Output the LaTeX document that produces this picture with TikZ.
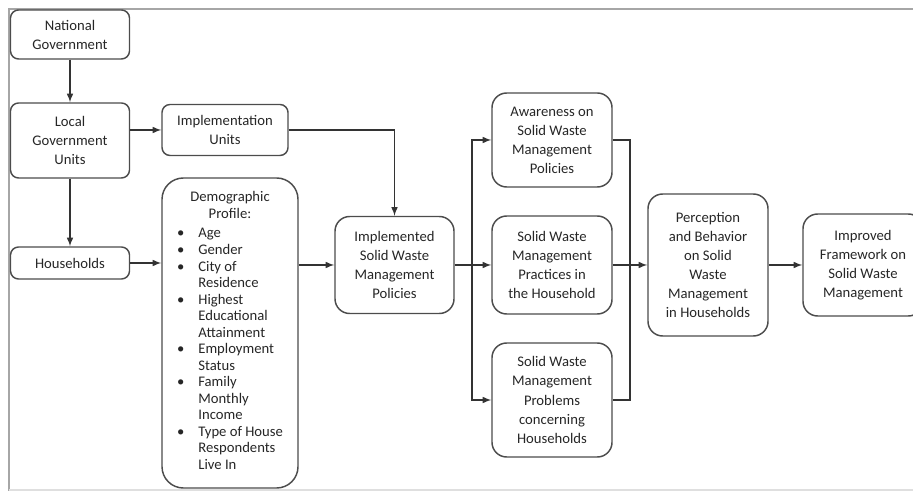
\documentclass[tikz,border=0pt]{standalone}
\usepackage{fontspec}
\setmainfont{Carlito}

\tikzset{
  box/.style={draw=black!70, line width=1.1pt, rounded corners=6pt, align=center,
    inner sep=0pt, text=black!85, font=\fontsize{11}{14.3}\selectfont},
  bigbox/.style={box, rounded corners=11pt},
  link/.style={->, >=latex, line width=1.2pt, black!80},
}

\begin{document}
\begin{tikzpicture}[x=0.75pt, y=-0.75pt]

\useasboundingbox (0,0) rectangle (913,491);
\draw[gray!70, line width=2.2pt] (9,491) -- (9,9) -- (913,9);
\draw[gray!25, line width=1pt] (9,490) -- (913,490);

% left column
\node[box, minimum width=89.25pt, minimum height=36.75pt] (natgov) at (70,34.5) {National\\Government};
\node[box, minimum width=89.25pt, minimum height=56.25pt] (lgu) at (70,140.5) {Local\\Government\\Units};
\node[box, minimum width=89.25pt, minimum height=24pt] (households) at (70,263) {Households};
\node[box, minimum width=94.5pt, minimum height=38.25pt] (impunits) at (225,130) {Implementation\\Units};

\node[bigbox, rounded corners=16pt, minimum width=102pt, minimum height=232.5pt,
  font=\fontsize{11}{12.4}\selectfont] (demo) at (230,333)
  {Demographic\\Profile:\\[5pt]
   \begin{tabular}{@{}p{16pt}@{}l@{}}
   \textbullet & Age\\
   \textbullet & Gender\\
   \textbullet & City of\\
               & Residence\\
   \textbullet & Highest\\
               & Educational\\
               & Attainment\\
   \textbullet & Employment\\
               & Status\\
   \textbullet & Family\\
               & Monthly\\
               & Income\\
   \textbullet & Type of House\\
               & Respondents\\
               & Live In
   \end{tabular}};

% middle
\node[bigbox, minimum width=89.25pt, minimum height=72.75pt] (implemented) at (394.5,265) {Implemented\\Solid Waste\\Management\\Policies};
\node[bigbox, minimum width=90pt, minimum height=70.5pt] (awareness) at (552,140) {Awareness on\\Solid Waste\\Management\\Policies};
\node[bigbox, minimum width=90pt, minimum height=73.5pt] (practices) at (552,265) {Solid Waste\\Management\\Practices in\\the Household};
\node[bigbox, minimum width=90pt, minimum height=85.5pt] (problems) at (552,400) {Solid Waste\\Management\\Problems\\concerning\\Households};

% right
\node[bigbox, minimum width=90pt, minimum height=106.5pt] (perception) at (708,265) {Perception\\and Behavior\\on Solid\\Waste\\Management\\in Households};
\node[bigbox, minimum width=90pt, minimum height=76.5pt] (improved) at (863,265) {Improved\\Framework on\\Solid Waste\\Management};

\coordinate (merge) at (630,265);

\draw[link] (natgov) -- (lgu);
\draw[link] (lgu.east |- impunits.west) -- (impunits.west);
\draw[link] (lgu) -- (households);
\draw[link] (households.east) -- (households.east -| demo.west);
\draw[link] (demo.east |- implemented.west) -- (implemented.west);
\draw[link] (impunits.east) -| (implemented.north);

\draw[line width=1.2pt, black!80] (implemented.east) -- ++(17,0) coordinate (split);
\draw[link] (split) |- (awareness.west);
\draw[link] (split) -- (practices.west);
\draw[link] (split) |- (problems.west);

\draw[line width=1.2pt, black!80] (awareness.east) -| (merge) |- (problems.east);
\draw[link] (practices.east) -- (perception.west);
\draw[link] (perception) -- (improved);

\end{tikzpicture}
\end{document}
